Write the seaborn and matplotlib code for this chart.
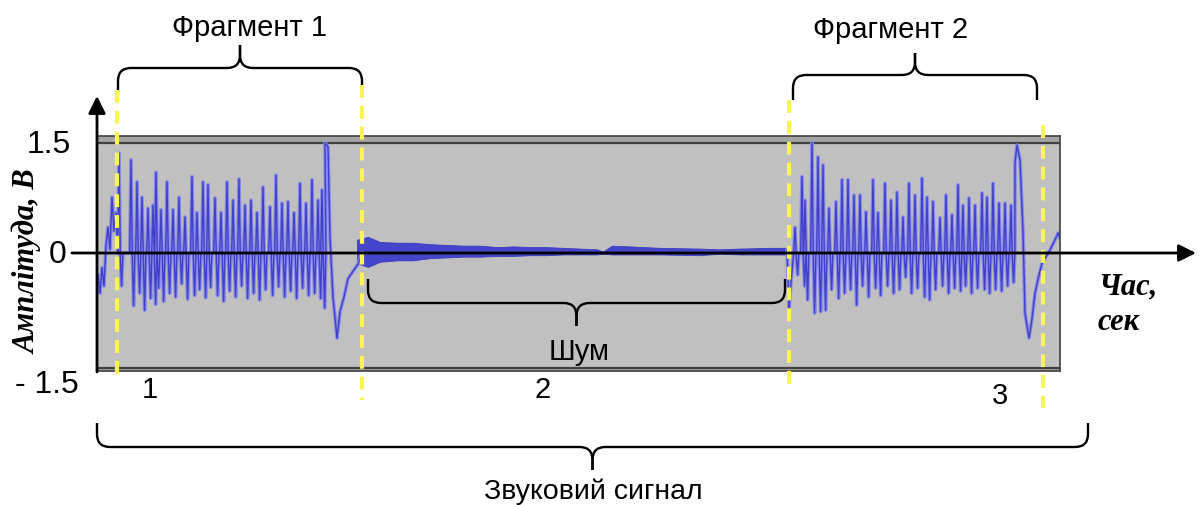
import numpy as np
import matplotlib
matplotlib.use("Agg")
import matplotlib.pyplot as plt
from matplotlib.path import Path
from matplotlib.patches import PathPatch
import seaborn as sns

# --- waveform values (time in s, amplitude in V) ---
lead_t = [0.01, 0.03, 0.05, 0.07, 0.09, 0.11, 0.13, 0.15, 0.17, 0.19, 0.21]
lead_v = [-0.30, -0.55, -0.20, -0.45, 0.10, 0.35, 0.05, 0.76, 0.30, 0.55, 0.0]

frag1_t = [0.22, 0.34, 0.40, 0.45, 0.51, 0.56, 0.59, 0.64, 0.70, 0.76,
           0.82, 0.88, 0.95, 1.00, 1.06, 1.11, 1.18, 1.24, 1.30, 1.36,
           1.42, 1.48, 1.54, 1.60, 1.66, 1.73, 1.79, 1.85, 1.91, 1.97,
           2.03, 2.09, 2.15, 2.21, 2.25]
frag1_top = [1.36, 1.27, 0.97, 0.76, 0.61, 0.65, 1.10, 0.59, 0.97, 0.59,
             0.76, 0.49, 1.04, 0.55, 0.97, 0.93, 0.75, 0.55, 0.97, 0.72,
             1.01, 0.65, 0.72, 0.55, 0.90, 0.63, 1.06, 0.68, 0.70, 0.55,
             0.95, 0.68, 1.00, 0.72, 0.86]
frag1_bot = [-0.45, -0.72, -0.55, -0.78, -0.62, -0.70, -0.48, -0.66, -0.55, -0.60,
             -0.42, -0.63, -0.58, -0.50, -0.61, -0.47, -0.58, -0.66, -0.52, -0.60,
             -0.45, -0.62, -0.55, -0.64, -0.50, -0.58, -0.46, -0.60, -0.52, -0.62,
             -0.48, -0.58, -0.55, -0.62, -0.75]
end1_t = [2.28, 2.31, 2.33, 2.36, 2.40, 2.43, 2.47, 2.51, 2.56, 2.61, 2.65]
end1_v = [1.50, 1.45, 0.20, -0.60, -1.16, -0.80, -0.60, -0.35, -0.25, -0.15, 0.0]

noise_t = [2.60, 2.71, 2.83, 3.00, 3.16, 3.33, 3.50, 3.66, 3.83, 4.00, 4.16, 4.33, 4.50,
           4.66, 4.83, 5.00, 5.06, 5.15, 5.33, 5.63, 6.03, 6.23, 6.43, 6.73, 6.89]
noise_hi = [0.18, 0.22, 0.15, 0.14, 0.14, 0.12, 0.11, 0.10, 0.10, 0.08, 0.09, 0.08, 0.08,
            0.07, 0.06, 0.05, 0.02, 0.10, 0.09, 0.07, 0.06, 0.05, 0.06, 0.07, 0.07]
noise_lo = [-0.14, -0.19, -0.12, -0.10, -0.10, -0.07, -0.06, -0.05, -0.05, -0.04, -0.04, -0.03, -0.03,
            -0.02, -0.02, -0.02, -0.01, -0.02, -0.02, -0.02, -0.03, -0.01, -0.02, -0.02, -0.02]

start2_t = [6.90, 6.92, 6.94, 6.96]
start2_v = [0.05, -0.78, -0.40, -0.10]
frag2_t = [6.98, 7.05, 7.08, 7.15, 7.21, 7.26, 7.32, 7.39, 7.45, 7.51,
           7.57, 7.63, 7.69, 7.76, 7.81, 7.88, 7.94, 8.00, 8.06, 8.12,
           8.18, 8.25, 8.30, 8.36, 8.43, 8.49, 8.55, 8.61, 8.66, 8.72,
           8.78, 8.85, 8.90, 8.96, 9.02, 9.08, 9.14]
frag2_top = [0.35, 1.04, 0.72, 1.50, 1.31, 1.20, 0.61, 0.70, 1.00, 1.00,
             0.79, 0.79, 0.56, 1.00, 0.55, 0.95, 0.72, 0.83, 0.49, 0.95,
             0.79, 1.02, 0.76, 0.70, 0.48, 0.79, 0.52, 0.93, 0.65, 0.75,
             0.65, 0.82, 0.76, 0.95, 0.68, 0.68, 0.65]
frag2_bot = [-0.30, -0.45, -0.64, -0.82, -0.80, -0.78, -0.50, -0.62, -0.55, -0.50,
             -0.71, -0.45, -0.60, -0.48, -0.58, -0.45, -0.55, -0.50, -0.33, -0.55,
             -0.48, -0.60, -0.64, -0.50, -0.45, -0.55, -0.48, -0.52, -0.45, -0.55,
             -0.48, -0.50, -0.55, -0.50, -0.52, -0.45, -0.40]
end2_t = [9.18, 9.20, 9.23, 9.26, 9.28, 9.32, 9.35, 9.38, 9.42, 9.45, 9.49, 9.53, 9.57, 9.61, 9.63]
end2_v = [1.23, 1.47, 1.27, 0.30, -0.82, -1.16, -0.90, -0.55, -0.30, -0.14, -0.05, 0.04, 0.15, 0.27, 0.20]

y_ticks = ["1.5", "0", "- 1.5"]
part_labels = ["1", "2", "3"]


def spikes(ts, tops, bots, dt=0.013):
    # each period: sharp peak, sharp trough, back to the zero level
    xs, ys = [], []
    for t, a, b in zip(ts, tops, bots):
        xs += [t - dt, t, t + dt, t + 2 * dt, t + 3 * dt]
        ys += [0.0, a, -0.05, b, 0.0]
    return xs, ys


z1x, z1y = spikes(frag1_t, frag1_top, frag1_bot)
z2x, z2y = spikes(frag2_t, frag2_top, frag2_bot)
sig_t = lead_t + z1x + end1_t + start2_t + z2x + end2_t
sig_v = lead_v + z1y + end1_v + start2_v + z2y + end2_v
seg = ([0] * len(lead_t + z1x + end1_t)) + ([1] * len(start2_t + z2x + end2_t))

sns.set_style("white")
plt.rcParams["font.family"] = ["Liberation Sans", "DejaVu Sans"]

W, H = 1199, 505
fig = plt.figure(figsize=(W / 100, H / 100), dpi=100)

# data axes = the grey recording window
ax = fig.add_axes([97 / W, (H - 371) / H, 963 / W, 235 / H])
ax.set_facecolor("#c0c0c0")
ax.set_xlim(0, 9.63)
ax.set_ylim(-1.609, 1.595)
ax.axhspan(1.5, 1.595, color="#a4a4a4", lw=0)
ax.axhspan(-1.609, -1.568, color="#a4a4a4", lw=0)
ax.axhline(1.5, color="#404040", lw=1.6)
ax.axhline(-1.568, color="#404040", lw=1.6)
for s in ax.spines.values():
    s.set_color("#404040")
    s.set_linewidth(1.2)
ax.set_xticks([])
ax.set_yticks([])

ax.fill_between(noise_t, noise_lo, noise_hi, color="#4545cc", lw=0.6, edgecolor="#3a3ac0")
sns.lineplot(x=sig_t, y=sig_v, units=seg, estimator=None, sort=False,
             color="#8a8aea", lw=2.6, ax=ax)
sns.lineplot(x=sig_t, y=sig_v, units=seg, estimator=None, sort=False,
             color="#4040c8", lw=1.0, ax=ax)
ax.set_xlabel("")
ax.set_ylabel("")

# overlay in pixel coordinates for axes arrows, markers and labels
ov = fig.add_axes([0, 0, 1, 1], zorder=5)
ov.set_xlim(0, W)
ov.set_ylim(H, 0)
ov.axis("off")
ov.patch.set_alpha(0)

# yellow dashed boundaries
for x, y0, y1 in [(117, 90, 375), (362, 85, 400), (789, 100, 390), (1043, 125, 408)]:
    ov.plot([x, x], [y0, y1], color="#fbf35a", lw=3, dashes=(3.1, 1.9), solid_capstyle="butt")

arrow = dict(arrowstyle="-|>", color="black", lw=2, mutation_scale=26, shrinkA=0, shrinkB=0)
ov.annotate("", xy=(97, 96), xytext=(97, 372), arrowprops=arrow)
ov.annotate("", xy=(1196, 253), xytext=(72, 253), arrowprops=arrow)


def brace(x0, x1, y_end, y_mid, y_tip, r=13):
    xc = (x0 + x1) / 2
    s = 1 if y_end > y_mid else -1
    left = [(x0, y_end), (x0, y_mid + s * r), (x0, y_mid), (x0 + r, y_mid),
            (xc - r, y_mid), (xc, y_mid), (xc, y_mid - s * r), (xc, y_tip)]
    right = [(xc, y_tip), (xc, y_mid - s * r), (xc, y_mid), (xc + r, y_mid),
             (x1 - r, y_mid), (x1, y_mid), (x1, y_mid + s * r), (x1, y_end)]
    codes = [Path.MOVETO, Path.LINETO, Path.CURVE3, Path.CURVE3,
             Path.LINETO, Path.CURVE3, Path.CURVE3, Path.LINETO]
    for pts in (left, right):
        ov.add_patch(PathPatch(Path(pts, codes), fill=False, lw=1.7, color="black",
                               capstyle="butt", joinstyle="round"))


brace(118, 362, 92, 68, 45)
brace(793, 1037, 100, 75, 53)
brace(368, 785, 279, 303, 326)
brace(97, 1088, 423, 447, 470)

txt = dict(ha="center", va="center", color="black")
ov.text(250, 28, "Фрагмент 1", fontsize=21, **txt)
ov.text(891, 30, "Фрагмент 2", fontsize=21, **txt)
ov.text(579, 352, "Шум", fontsize=21, **txt)
ov.text(593, 492, "Звуковий сигнал", fontsize=20.5,
        family=["Liberation Sans Narrow", "Liberation Sans", "DejaVu Sans"], **txt)
for lab, x, y in zip(part_labels, [150, 543, 1000], [390, 390, 396]):
    ov.text(x, y, lab, fontsize=21, **txt)
for lab, x, y in zip(y_ticks, [49, 58, 47], [145, 255, 385]):
    ov.text(x, y, lab, fontsize=23, **txt)

serif = dict(family=["Liberation Serif", "DejaVu Serif"], weight="bold", style="italic",
             color="black")
ov.text(28, 262, "Амплітуда, В", rotation=90, fontsize=22, ha="center", va="center", **serif)
ov.text(1098, 287, "Час,", fontsize=22, ha="left", va="center", **serif)
ov.text(1098, 322, "сек", fontsize=22, ha="left", va="center", **serif)

fig.savefig("out.png", dpi=100, facecolor="white")
